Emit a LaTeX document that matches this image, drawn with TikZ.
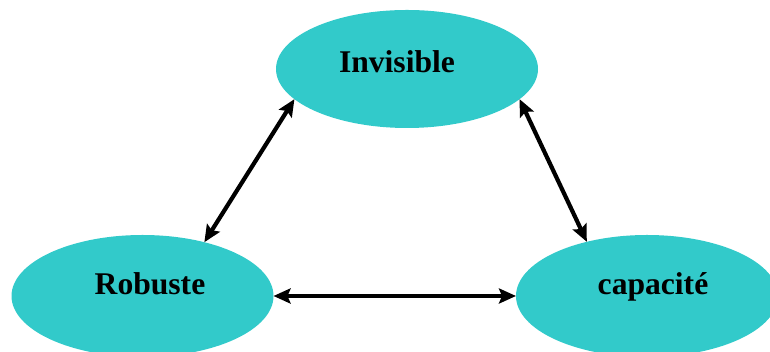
\documentclass[tikz,border=0pt]{standalone}
\usepackage{fontspec}
\setmainfont{Liberation Serif}
\usetikzlibrary{shapes.geometric,arrows.meta}
\definecolor{teal1}{RGB}{50,202,202}
\begin{document}
\begin{tikzpicture}[x=1pt,y=1pt,
  blob/.style={ellipse,fill=teal1,draw=none,minimum width=262pt,minimum height=118pt,inner sep=0pt,outer sep=0pt},
  lbl/.style={anchor=base,font=\bfseries\fontsize{31.6}{36}\selectfont,inner sep=0pt},
  conn/.style={line width=4.2pt,{Stealth[length=17pt,width=15pt,inset=3pt]}-{Stealth[length=17pt,width=15pt,inset=3pt]}}]
\useasboundingbox (0,0) rectangle (770,352);
\node[blob] (top) at (407,283) {};
\node[blob,minimum height=122pt] (left) at (142.5,56) {};
\node[blob,minimum height=122pt] (right) at (647,56) {};
\node[lbl] (ttop) at (397,279) {Invisible};
\node[lbl] (tleft) at (150,57) {Robuste};
\node[lbl] (tright) at (653,57) {capacité};
\draw[conn] (left.41) -- (top.195);
\draw[conn] (right.138.5) -- (top.345);
\draw[conn] (left.east) -- (right.west);
\end{tikzpicture}
\end{document}
